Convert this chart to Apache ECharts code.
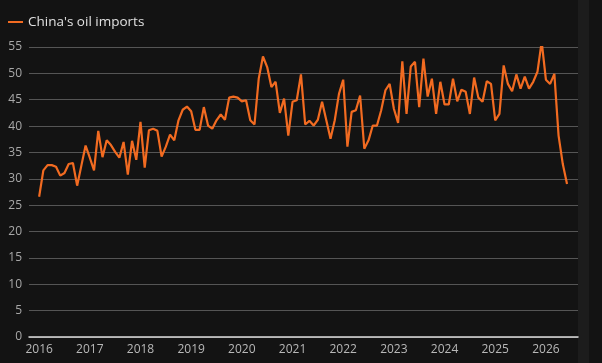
<!DOCTYPE html>
<html>
<head>
<meta charset="utf-8">
<script src="https://cdn.jsdelivr.net/npm/echarts@6/dist/echarts.min.js"></script>
<style>
  html, body { margin: 0; padding: 0; background: #131313; }
  #chart { width: 602px; height: 363px; }
</style>
</head>
<body>
<div id="chart"></div>
<script>
  // monthly values, Jan 2016 .. Jun 2026
  var startYear = 2016;
  var imports2016 = [26.6, 31.6, 32.6, 32.6, 32.3, 30.6, 31.1, 32.8, 33.0, 28.7, 32.5, 36.3];
  var imports2017 = [34.0, 31.6, 39.1, 34.1, 37.3, 36.4, 35.1, 34.0, 37.0, 30.8, 37.2, 33.6];
  var imports2018 = [40.8, 32.1, 39.2, 39.5, 39.1, 34.2, 36.1, 38.4, 37.3, 41.1, 43.1, 43.7];
  var imports2019 = [42.8, 39.3, 39.3, 43.6, 40.1, 39.5, 41.1, 42.2, 41.2, 45.4, 45.6, 45.4];
  var imports2020 = [44.7, 44.9, 41.1, 40.3, 49.0, 53.2, 51.2, 47.4, 48.4, 42.5, 45.2, 38.2];
  var imports2021 = [44.6, 44.9, 49.8, 40.3, 41.0, 40.1, 41.2, 44.6, 41.1, 37.6, 41.1, 46.1];
  var imports2022 = [48.8, 36.1, 42.7, 43.0, 45.8, 35.7, 37.3, 40.1, 40.1, 43.0, 46.8, 48.0];
  var imports2023 = [43.3, 40.6, 52.3, 42.3, 51.3, 52.2, 43.6, 52.8, 45.6, 49.0, 42.3, 48.4];
  var imports2024 = [44.1, 44.1, 49.0, 44.7, 46.9, 46.5, 42.3, 49.2, 45.4, 44.6, 48.5, 48.0];
  var imports2025 = [41.1, 42.3, 51.5, 48.0, 46.6, 49.8, 47.1, 49.4, 47.1, 48.4, 50.3, 56.0];
  var imports2026 = [48.8, 48.0, 49.9, 38.2, 32.8, 29.0];
  var yearTicks = [0, 12, 24, 36, 48, 60, 72, 84, 96, 108, 120];

  var values = [].concat(imports2016, imports2017, imports2018, imports2019, imports2020,
    imports2021, imports2022, imports2023, imports2024, imports2025, imports2026);
  var seriesData = values.map(function (v, i) { return [i, v]; });

  var chart = echarts.init(document.getElementById('chart'));
  chart.setOption({
    backgroundColor: '#131313',
    animation: false,
    graphic: [{
      type: 'rect',
      shape: { x: 578, y: 0, width: 11, height: 363 },
      style: { fill: '#1c1c1c' },
      silent: true,
      z: -1
    }],
    legend: {
      left: 3,
      top: 10,
      itemWidth: 15,
      itemHeight: 2,
      icon: 'rect',
      textStyle: { color: '#e0e0e0', fontSize: 13.5, fontFamily: 'Open Sans' },
      data: ["China's oil imports"]
    },
    grid: { left: 29, right: 24, top: 47, bottom: 26 },
    xAxis: {
      type: 'value',
      min: -2.4,
      max: 127.6,
      splitLine: { show: false },
      axisTick: { show: false },
      axisLine: { show: true, lineStyle: { color: '#dcdcdc', width: 1.5 } },
      axisLabel: {
        customValues: yearTicks,
        color: '#b8b8b8',
        fontSize: 12,
        fontFamily: 'Open Sans',
        margin: 7,
        formatter: function (v) { return String(startYear + Math.round(v / 12)); }
      }
    },
    yAxis: {
      type: 'value',
      min: 0,
      max: 55,
      interval: 5,
      axisLine: { show: false },
      axisTick: { show: false },
      axisLabel: { color: '#a8a8a8', fontSize: 12, fontFamily: 'Open Sans', margin: 7 },
      splitLine: { lineStyle: { color: '#555555', width: 1.2 } }
    },
    series: [{
      name: "China's oil imports",
      type: 'line',
      data: seriesData,
      showSymbol: false,
      color: '#f26b21',
      lineStyle: { color: '#f26b21', width: 2.2 }
    }]
  });
</script>
</body>
</html>
